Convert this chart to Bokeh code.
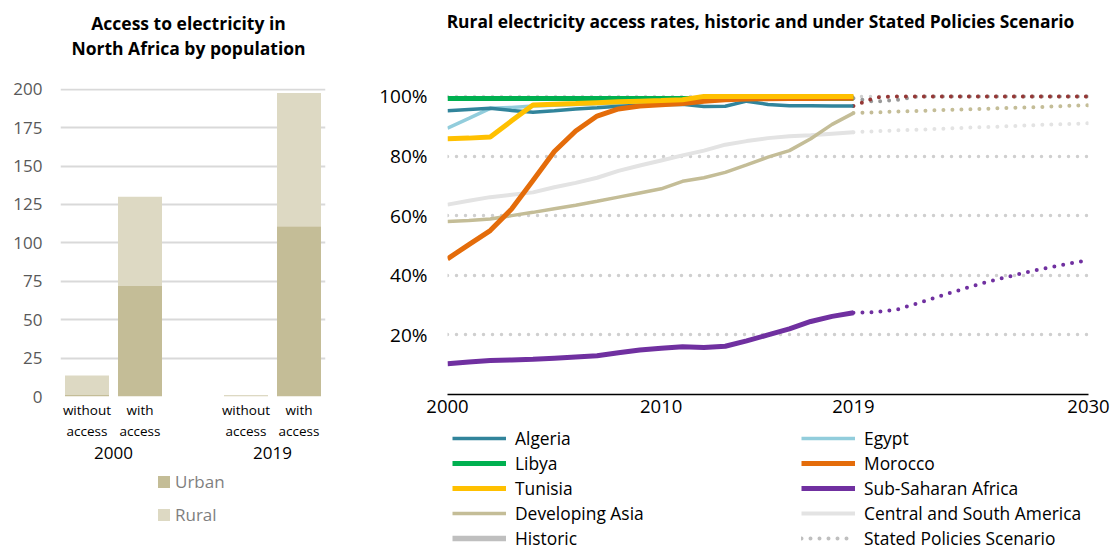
from bokeh.plotting import figure
from bokeh.models import (FactorRange, ColumnDataSource, Legend, LegendItem,
                          PrintfTickFormatter, FixedTicker, Range1d, Label)
from bokeh.layouts import row, column
from bokeh.embed import file_html
from bokeh.resources import INLINE

FONT = "Open Sans"

# ---------------- left chart data ----------------
left_title = ["Access to electricity in", "North Africa by population"]
bar_years = ["2000", "2000", "2019", "2019"]
bar_access = ["without\naccess", "with\naccess", "without\naccess", "with\naccess"]
urban = [1.0, 72.0, 0.2, 110.8]
rural = [12.6, 58.0, 0.8, 86.7]
left_ticks = [0, 25, 50, 75, 100, 125, 150, 175, 200]

# ---------------- right chart data ----------------
right_title = "Rural electricity access rates, historic and under Stated Policies Scenario"
hist_years = list(range(2000, 2020))
proj_years = list(range(2019, 2031))
algeria = [95.2, 95.6, 96.0, 95.3, 94.7, 95.2, 95.8, 96.2, 96.7, 97.0,
           97.3, 97.4, 96.6, 96.7, 98.4, 97.3, 96.9, 96.9, 96.8, 96.8]
egypt = [89.3, 92.6, 96.0, 96.3, 96.8, 97.0, 97.3, 97.5, 97.8, 98.0,
         98.2, 98.5, 98.7, 99.0, 99.2, 99.3, 99.4, 99.4, 99.5, 99.5]
libya = [99.3, 99.3, 99.3, 99.3, 99.3, 99.3, 99.3, 99.3, 99.3, 99.3,
         99.3, 99.3, 99.3, 99.3, 99.4, 99.4, 99.4, 99.4, 99.4, 99.4]
morocco = [45.5, 50.3, 55.0, 62.2, 71.8, 81.5, 88.4, 93.4, 95.8, 96.8,
           97.2, 97.6, 98.4, 98.9, 99.1, 99.2, 99.3, 99.3, 99.4, 99.4]
tunisia = [85.8, 86.0, 86.4, 91.8, 97.1, 97.4, 97.6, 97.9, 98.2, 98.4,
           98.6, 98.9, 100.0, 100.0, 100.0, 100.0, 100.0, 100.0, 100.0, 100.0]
ssa = [10.3, 10.9, 11.4, 11.6, 11.8, 12.2, 12.6, 13.0, 14.0, 14.9,
       15.5, 16.0, 15.8, 16.2, 18.0, 20.0, 22.0, 24.5, 26.2, 27.4]
dev_asia = [58.0, 58.4, 58.9, 60.0, 61.1, 62.3, 63.5, 64.8, 66.2, 67.6,
            69.0, 71.5, 72.7, 74.5, 77.0, 79.6, 81.8, 85.8, 90.6, 94.4]
csa = [63.7, 65.0, 66.2, 67.0, 67.8, 69.5, 71.0, 72.7, 75.0, 76.8,
       78.5, 80.2, 81.8, 83.8, 85.0, 86.0, 86.6, 87.0, 87.5, 88.0]

algeria_steps = [96.8, 99.6, 100.0, 100.0, 100.0, 100.0, 100.0, 100.0, 100.0, 100.0, 100.0, 100.0]
nafrica_steps = [99.4, 98.2, 98.8, 100.0, 100.0, 100.0, 100.0, 100.0, 100.0, 100.0, 100.0, 100.0]
dev_asia_steps = [94.4, 94.6, 94.9, 95.1, 95.4, 95.6, 95.8, 96.1, 96.3, 96.5, 96.8, 97.0]
csa_steps = [88.0, 88.3, 88.6, 88.8, 89.1, 89.4, 89.7, 89.9, 90.2, 90.5, 90.7, 91.0]
ssa_steps = [27.4, 27.6, 28.4, 30.6, 32.9, 35.1, 37.3, 39.1, 40.8, 42.4, 43.8, 45.0]

right_ticks = [20, 40, 60, 80, 100]
x_ticks = [2000, 2010, 2019, 2030]

C_URBAN = "#C4BD97"
C_RURAL = "#DDD9C3"
C_KEY = "#BFBFBF"
DOT = dict(line_width=4, line_dash="0 9", line_cap="round")

series = [  # label, historic values, colour, width
    ("Algeria", algeria, "#31849B", 3.5),
    ("Egypt", egypt, "#92CDDC", 3.5),
    ("Libya", libya, "#00B050", 5),
    ("Morocco", morocco, "#E46C0A", 5),
    ("Tunisia", tunisia, "#FFC000", 5),
    ("Sub-Saharan Africa", ssa, "#7030A0", 5),
    ("Developing Asia", dev_asia, "#C4BD97", 3.5),
    ("Central and South America", csa, "#E3E3E3", 4),
]
draw_order = ["Central and South America", "Developing Asia", "Sub-Saharan Africa",
              "Egypt", "Algeria", "Libya", "Morocco", "Tunisia"]

WL, WR, H = 355, 760, 551
TOP_H = 62
PL_H = 408
PR_H = 363


def blank(width, height, x_range=None, y_range=None):
    f = figure(width=width, height=height,
               x_range=x_range if x_range is not None else Range1d(0, 1),
               y_range=y_range if y_range is not None else Range1d(0, 1),
               x_axis_type=None, y_axis_type=None, output_backend="svg",
               toolbar_location=None, min_border=0)
    f.outline_line_color = None
    f.grid.visible = False
    return f


# =============== LEFT: title ===============
lt = blank(WL, TOP_H)
for txt, yy in zip(left_title, [40, 15]):
    lt.add_layout(Label(x=128, y=yy, x_units="screen", y_units="screen", text=txt,
                        text_align="center", text_baseline="middle", text_font=FONT,
                        text_font_size="17.5px", text_font_style="bold",
                        text_color="#000000"))

# =============== LEFT: bars ===============
factors = list(zip(bar_years, bar_access))
src = ColumnDataSource(dict(x=factors, urban=urban, rural=rural))
xr = FactorRange(*factors, group_padding=1.0, range_padding=0.0)

pl = figure(width=WL, height=PL_H, x_range=xr, y_range=Range1d(0, 200.5),
            output_backend="svg", toolbar_location=None,
            min_border_left=60, min_border_right=30, min_border_top=26,
            min_border_bottom=74)
pl.vbar_stack(["urban", "rural"], x="x", width=0.83, source=src,
              color=[C_URBAN, C_RURAL], line_color=None)
pl.outline_line_color = None
pl.xgrid.grid_line_color = None
pl.ygrid.grid_line_color = "#D9D9D9"
pl.ygrid.grid_line_width = 2
pl.yaxis.ticker = FixedTicker(ticks=left_ticks)
pl.yaxis.axis_line_color = None
pl.yaxis.major_tick_line_color = None
pl.yaxis.major_tick_out = 0
pl.yaxis.minor_tick_line_color = None
pl.yaxis.major_label_standoff = 18
pl.yaxis.major_label_text_font = FONT
pl.yaxis.major_label_text_font_size = "17px"
pl.yaxis.major_label_text_color = "#595959"
pl.xaxis.axis_line_color = None
pl.xaxis.major_tick_line_color = None
pl.xaxis.major_tick_out = 0
pl.xaxis.separator_line_color = None
pl.xaxis.major_label_standoff = 4
pl.xaxis.major_label_orientation = "horizontal"
pl.xaxis.major_label_text_font = FONT
pl.xaxis.major_label_text_font_size = "13.5px"
pl.xaxis.major_label_text_color = "#000000"
pl.xaxis.group_text_font = FONT
pl.xaxis.group_text_font_size = "17px"
pl.xaxis.group_text_color = "#000000"
pl.xaxis.group_text_font_style = "normal"

# =============== LEFT: legend (hidden key renderers, shown only in the legend) ===============
ll = blank(WL, H - TOP_H - PL_H, x_range=xr, y_range=Range1d(-300, -250))
keys = ll.vbar_stack(["urban", "rural"], x="x", width=0.83, source=src,
                     color=[C_URBAN, C_RURAL], line_color=None)
for k in keys:
    k.visible = False
ll.add_layout(Legend(items=[LegendItem(label="Urban", renderers=[keys[0]]),
                            LegendItem(label="Rural", renderers=[keys[1]])],
                     location=(96, 25), orientation="vertical",
                     glyph_width=15, glyph_height=15, label_height=20, spacing=10,
                     label_standoff=4, padding=0, margin=0,
                     inactive_fill_alpha=0,
                     label_text_font=FONT, label_text_font_size="17px",
                     label_text_color="#7F7F7F", border_line_color=None,
                     background_fill_alpha=0), "center")

# =============== RIGHT: title ===============
rt = blank(WR, TOP_H)
rt.add_layout(Label(x=313, y=42, x_units="screen", y_units="screen", text=right_title,
                    text_align="center", text_baseline="middle", text_font=FONT,
                    text_font_size="17.4px", text_font_style="bold", text_color="#000000"))

# =============== RIGHT: lines ===============
xrr = Range1d(2000, 2030)
pr = figure(width=WR, height=PR_H, x_range=xrr,
            y_range=Range1d(0, 106), output_backend="svg", toolbar_location=None,
            min_border_left=92, min_border_right=27, min_border_top=16,
            min_border_bottom=PR_H - 332)
pr.outline_line_color = None
pr.xgrid.grid_line_color = None
pr.ygrid.ticker = FixedTicker(ticks=right_ticks)
pr.ygrid.grid_line_color = "#CFCFCF"
pr.ygrid.grid_line_width = 3.5
pr.ygrid.grid_line_dash = "0 9"
pr.ygrid.grid_line_cap = "round"
pr.yaxis.ticker = FixedTicker(ticks=right_ticks)
pr.yaxis.formatter = PrintfTickFormatter(format="%d%%")
pr.yaxis.axis_line_color = None
pr.yaxis.major_tick_line_color = None
pr.yaxis.major_tick_out = 0
pr.yaxis.minor_tick_line_color = None
pr.yaxis.major_label_standoff = 20
pr.yaxis.major_label_text_font = FONT
pr.yaxis.major_label_text_font_size = "19px"
pr.yaxis.major_label_text_color = "#000000"
pr.xaxis.ticker = FixedTicker(ticks=x_ticks)
pr.xaxis.axis_line_color = "#000000"
pr.xaxis.axis_line_width = 1.5
pr.xaxis.major_tick_line_color = None
pr.xaxis.major_tick_out = 0
pr.xaxis.minor_tick_line_color = None
pr.xaxis.major_label_standoff = 5
pr.xaxis.major_label_text_font = FONT
pr.xaxis.major_label_text_font_size = "18.5px"
pr.xaxis.major_label_text_color = "#000000"

# projections (dotted)
pr.line(proj_years, csa_steps, line_color="#E3E3E3", **DOT)
pr.line(proj_years, dev_asia_steps, line_color="#C4BD97", **DOT)
pr.line(proj_years, ssa_steps, line_color="#7030A0", **DOT)
pr.line(proj_years, nafrica_steps, line_color="#999999", **DOT)
pr.line(proj_years, algeria_steps, line_color="#953735", **DOT)

lookup = {s[0]: s for s in series}
for name in draw_order:
    _, vals, col, lw = lookup[name]
    pr.line(hist_years, vals, line_color=col, line_width=lw)

# =============== RIGHT: legend (hidden key renderers, shown only in the legend) ===============
rl = blank(WR, H - TOP_H - PR_H, x_range=xrr, y_range=Range1d(500, 600))
items = []
for name, vals, col, lw in series:
    items.append(LegendItem(label=name, renderers=[rl.line(hist_years, vals, line_color=col, line_width=lw)]))
items.append(LegendItem(label="Historic",
                        renderers=[rl.line(hist_years, libya, line_color=C_KEY, line_width=5.5)]))
items.append(LegendItem(label="Stated Policies Scenario",
                        renderers=[rl.line(proj_years, nafrica_steps, line_color=C_KEY, **DOT)]))
rl.add_layout(Legend(items=items, ncols=2, orientation="horizontal", location=(5, 1),
                     glyph_width=54, glyph_height=20, label_height=20, label_width=285,
                     label_standoff=9, spacing=1, padding=0, margin=0,
                     label_text_font=FONT, label_text_font_size="17.4px",
                     label_text_color="#000000", border_line_color=None,
                     background_fill_alpha=0), "center")

layout = row(column(lt, pl, ll), column(rt, pr, rl))
open("out.html", "w").write(file_html(layout, INLINE))
